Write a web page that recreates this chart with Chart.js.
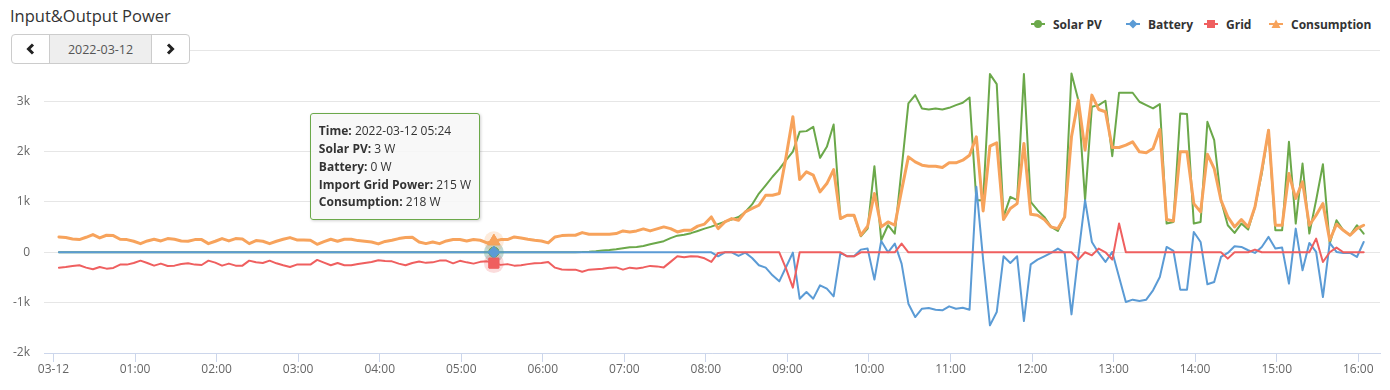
<!DOCTYPE html>
<html>
<head>
<meta charset="utf-8">
<title>Input&amp;Output Power</title>
<script src="https://cdn.jsdelivr.net/npm/chart.js@4.4.0/dist/chart.umd.min.js"></script>
<style>
	body { margin: 0; width: 1390px; height: 390px; overflow: hidden; background: #fff; font-family: "Open Sans", sans-serif; position: relative; }
	#title { position: absolute; left: 10px; top: 4px; font-size: 16.5px; color: #333; }
	#rule { position: absolute; left: 11px; right: 10px; top: 50px; border-top: 1px solid #e6e6e6; }
	#nav { position: absolute; left: 11px; top: 34px; width: 177px; height: 28px; border: 1px solid #ccc; border-radius: 4px; background: #fff; display: flex; overflow: hidden; }
	#nav .btn { width: 37px; display: flex; align-items: center; justify-content: center; }
	#nav .day { width: 101px; background: #eee; border-left: 1px solid #ccc; border-right: 1px solid #ccc; color: #555; font-size: 12.5px; display: flex; align-items: center; justify-content: center; }
	.lg { position: absolute; top: 15px; height: 18px; display: flex; align-items: center; font-size: 12px; font-weight: bold; color: #333; }
	.lg svg { margin-right: 8px; }
	#wrap { position: absolute; left: 0; top: 60px; width: 1390px; height: 330px; }
	#tip { position: absolute; display: none; padding: 8px; background: rgba(247,247,247,0.88); border: 1px solid #6ba84a; border-radius: 3px; box-shadow: 1px 1px 3px rgba(0,0,0,0.18); font-size: 12px; line-height: 17.8px; color: #333; white-space: nowrap; }
</style>
</head>
<body>
<div id="title">Input&amp;Output Power</div>
<div id="rule"></div>
<div id="nav">
	<div class="btn"><svg width="9" height="12"><polyline points="7,1.5 2.5,6 7,10.5" fill="none" stroke="#222" stroke-width="3"/></svg></div>
	<div class="day" id="day"></div>
	<div class="btn"><svg width="9" height="12"><polyline points="2,1.5 6.5,6 2,10.5" fill="none" stroke="#222" stroke-width="3"/></svg></div>
</div>
<div id="legend"></div>
<div id="wrap"><canvas id="chartCanvas" width="1390" height="330"></canvas></div>
<div id="tip"></div>

<script>
const dateLabel = '2022-03-12';
const sampleStart = 4;  // first sample at 00:04
const sampleStep = 5;   // minutes between samples

// one row per hour (12 samples), last row is 16:04
const solarPV = [
	0, 0, 0, 0, 0, 0, 0, 0, 0, 0, 0, 0,
	0, 0, 0, 0, 0, 0, 0, 0, 0, 0, 0, 0,
	0, 0, 0, 0, 0, 0, 0, 0, 0, 0, 0, 0,
	0, 0, 0, 0, 0, 0, 0, 0, 0, 0, 0, 0,
	0, 0, 0, 0, 0, 0, 0, 0, 0, 0, 0, 0,
	3, 3, 3, 3, 3, 3, 3, 3, 3, 3, 3, 3,
	3, 3, 3, 3, 3, 5, 10, 20, 35, 45, 60, 80,
	100, 106, 125, 160, 190, 220, 280, 330, 350, 380, 424, 470,
	510, 560, 610, 650, 700, 800, 950, 1166, 1330, 1500, 1650, 1829,
	2000, 2392, 2406, 2492, 1875, 2094, 2538, 669, 736, 736, 318, 470,
	1710, 239, 537, 371, 1650, 2956, 3121, 2856, 2836, 2856, 2836, 2869,
	2922, 2969, 3075, 1034, 1034, 3539, 3340, 702, 1100, 1034, 3539, 1000,
	835, 702, 504, 424, 702, 3552, 3022, 1034, 2889, 2922, 3009, 1909,
	3168, 3168, 3168, 2989, 2922, 2856, 2942, 570, 603, 2757, 2744, 570,
	603, 2591, 2227, 1034, 537, 384, 570, 451, 901, 1564, 2425, 437,
	437, 2194, 570, 1763, 371, 1034, 1750, 172, 636, 437, 338, 537,
	371
];

const battery = [
	0, 0, 0, 0, 0, 0, 0, 0, 0, 0, 0, 0,
	0, 0, 0, 0, 0, 0, 0, 0, 0, 0, 0, 0,
	0, 0, 0, 0, 0, 0, 0, 0, 0, 0, 0, 0,
	0, 0, 0, 0, 0, 0, 0, 0, 0, 0, 0, 0,
	0, 0, 0, 0, 0, 0, 0, 0, 0, 0, 0, 0,
	0, 0, 0, 0, 0, 0, 0, 0, 0, 0, 0, 0,
	0, 0, 0, 0, 0, 0, 0, 0, 0, 0, 0, 0,
	0, 0, 0, 0, 0, 0, 0, 0, 0, 0, 0, 0,
	0, -80, 0, 0, -73, -7, -113, -258, -305, -457, -577, -292,
	-7, -921, -789, -921, -656, -722, -875, -13, -80, -80, 53, 73,
	-543, 225, 0, 172, -225, -1021, -1286, -1120, -1107, -1140, -1153, -1074,
	-1120, -1100, -1140, 1299, -150, -1451, -1186, -80, -212, -80, -1365, -239,
	-146, -80, -13, 73, -13, -1233, -60, 1034, 205, -13, -192, 7,
	-490, -987, -941, -968, -941, -755, -490, 106, 27, -742, -742, 404,
	205, -636, -590, -93, -13, 119, 106, 40, -13, 106, 305, 73,
	93, -623, 470, -358, 186, 7, -888, 186, 7, -13, -13, -93,
	205
];

// negative = import from grid
const grid = [
	-305, -292, -272, -258, -305, -338, -292, -325, -311, -245, -245, -212,
	-166, -212, -265, -225, -272, -265, -232, -219, -245, -252, -166, -205,
	-265, -225, -265, -265, -166, -199, -212, -166, -219, -258, -292, -245,
	-245, -245, -152, -205, -258, -212, -258, -258, -232, -212, -192, -159,
	-172, -180, -225, -258, -212, -185, -210, -200, -165, -165, -220, -170,
	-200, -225, -190, -180, -215, -250, -235, -265, -258, -235, -220, -212,
	-192, -305, -340, -345, -345, -385, -345, -335, -325, -305, -300, -345,
	-305, -320, -300, -270, -280, -300, -190, -80, -100, -80, -85, -120,
	-190, -13, 0, 0, 0, 0, 0, 0, 0, 0, 0, -325,
	-702, 0, 0, 0, 0, 0, 0, 0, -80, -80, 0, 0,
	0, 0, 0, 0, 172, 0, 0, 0, 0, 0, 0, 0,
	0, 0, 0, 0, 0, 0, 0, 0, 0, 0, 0, 0,
	0, 0, 0, 0, 0, 0, -146, 0, -60, 73, 0, -146,
	570, 0, 0, 0, 0, 0, 0, 0, 0, 0, 0, 0,
	0, 0, 0, 0, -126, 0, 0, 0, 53, 0, 0, 0,
	0, 0, 0, 0, 0, 272, -192, 0, 93, 0, 0, 0,
	0
];

const consumption = [
	305, 292, 265, 252, 298, 351, 285, 338, 331, 258, 252, 219,
	172, 225, 258, 225, 272, 258, 225, 219, 252, 252, 172, 219,
	272, 225, 272, 265, 172, 232, 219, 172, 219, 258, 292, 245,
	245, 239, 159, 212, 258, 219, 258, 258, 232, 219, 205, 166,
	215, 239, 272, 292, 300, 205, 172, 205, 172, 225, 252, 252,
	225, 252, 239, 186, 218, 252, 252, 305, 285, 258, 239, 225,
	186, 305, 331, 338, 338, 391, 358, 358, 358, 358, 371, 424,
	404, 424, 464, 424, 464, 504, 470, 404, 437, 437, 520, 560,
	702, 470, 603, 669, 636, 802, 870, 934, 1133, 1133, 1166, 1895,
	2691, 1445, 1597, 1531, 1199, 1365, 1643, 669, 736, 736, 338, 517,
	1166, 504, 603, 537, 1230, 1895, 1796, 1730, 1710, 1710, 1683, 1776,
	1776, 1829, 1928, 2293, 822, 2108, 2174, 650, 868, 967, 2160, 755,
	736, 650, 504, 470, 702, 2293, 3022, 2028, 3121, 2836, 2790, 2081,
	2081, 2127, 2193, 1995, 1975, 2061, 2439, 650, 623, 1995, 1995, 967,
	802, 1948, 1663, 1034, 702, 504, 650, 504, 901, 1630, 2425, 537,
	537, 1564, 1067, 1398, 537, 736, 967, 239, 557, 437, 338, 470,
	537
];

const hourLabels = ['03-12', '01:00', '02:00', '03:00', '04:00', '05:00', '06:00', '07:00', '08:00',
	'09:00', '10:00', '11:00', '12:00', '13:00', '14:00', '15:00', '16:00'];
const yTickValues = [-2000, -1000, 0, 1000, 2000, 3000];
const yTickLabels = ['-2k', '-1k', '0', '1k', '2k', '3k'];
const hoverTime = '05:24';

const series = [
	{ label: 'Solar PV', values: solarPV, color: '#6ba84a', shape: 'circle', width: 2, order: 3, hover: 5 },
	{ label: 'Battery', values: battery, color: '#5b9bd5', shape: 'rectRot', width: 2, order: 2, hover: 6 },
	{ label: 'Grid', values: grid, color: '#ef5f5f', shape: 'rect', width: 2, order: 1, hover: 7 },
	{ label: 'Consumption', values: consumption, color: '#f7a35c', shape: 'triangle', width: 3, order: 0, hover: 7 }
];
const legendLeft = [1031, 1126, 1204, 1269];

function pad2(n) { return String(n).padStart(2, '0'); }
const minutes = solarPV.map((v, i) => sampleStart + i * sampleStep);
const times = minutes.map(m => pad2(Math.floor(m / 60)) + ':' + pad2(m % 60));

document.getElementById('day').textContent = dateLabel;

function legendIcon(s) {
	let mark = '';
	if (s.shape === 'circle') mark = `<circle cx="7" cy="5" r="4" fill="${s.color}"/>`;
	if (s.shape === 'rectRot') mark = `<polygon points="7,0.5 11.5,5 7,9.5 2.5,5" fill="${s.color}"/>`;
	if (s.shape === 'rect') mark = `<rect x="3" y="1" width="8" height="8" fill="${s.color}"/>`;
	if (s.shape === 'triangle') mark = `<polygon points="7,0.5 11.5,9 2.5,9" fill="${s.color}"/>`;
	return `<svg width="14" height="10"><line x1="0" y1="5" x2="14" y2="5" stroke="${s.color}" stroke-width="2"/>${mark}</svg>`;
}
const legendBox = document.getElementById('legend');
series.forEach((s, i) => {
	const item = document.createElement('div');
	item.className = 'lg';
	item.style.left = legendLeft[i] + 'px';
	item.innerHTML = legendIcon(s) + `<span>${s.label}</span>`;
	legendBox.appendChild(item);
});

function renderTip(context) {
	const { chart, tooltip } = context;
	const el = document.getElementById('tip');
	if (tooltip.opacity === 0 || !tooltip.dataPoints || !tooltip.dataPoints.length) {
		el.style.display = 'none';
		return;
	}
	const pts = tooltip.dataPoints;
	let html = `<div><b>Time:</b> ${dateLabel} ${times[pts[0].dataIndex]}</div>`;
	pts.forEach(p => {
		const v = p.parsed.y;
		let name = p.dataset.label;
		let shown = v;
		if (name === 'Grid') {
			name = v < 0 ? 'Import Grid Power' : 'Export Grid Power';
			shown = Math.abs(v);
		}
		html += `<div><b>${name}:</b> ${shown} W</div>`;
	});
	el.innerHTML = html;
	el.style.display = 'block';
	const wrap = document.getElementById('wrap');
	el.style.left = (wrap.offsetLeft + tooltip.caretX - el.offsetWidth - 14) + 'px';
	el.style.top = (wrap.offsetTop + tooltip.caretY - 139) + 'px';
}

// translucent halo behind the hovered markers
const haloPlugin = {
	id: 'halo',
	afterDatasetsDraw(chart) {
		const ctx = chart.ctx;
		const active = chart.getActiveElements();
		active.forEach(a => {
			const ds = chart.data.datasets[a.datasetIndex];
			ctx.save();
			ctx.globalAlpha = 0.22;
			ctx.fillStyle = ds.borderColor;
			ctx.beginPath();
			ctx.arc(a.element.x, a.element.y, 10, 0, Math.PI * 2);
			ctx.fill();
			ctx.restore();
		});
		active.forEach(a => a.element.draw(ctx, chart.chartArea));
	}
};

const config = {
	type: 'line',
	data: {
		datasets: series.map(s => ({
			label: s.label,
			data: s.values.map((v, i) => ({ x: minutes[i], y: v })),
			borderColor: s.color,
			backgroundColor: s.color,
			borderWidth: s.width,
			borderJoinStyle: 'round',
			borderCapStyle: 'round',
			tension: 0,
			order: s.order,
			pointStyle: s.shape,
			pointRadius: 0,
			pointHoverRadius: s.hover,
			pointHoverBackgroundColor: s.color,
			pointHoverBorderColor: s.color,
			pointHoverBorderWidth: 1
		}))
	},
	options: {
		responsive: false,
		animation: false,
		layout: { padding: { top: 11, right: 10, left: 0, bottom: 0 } },
		interaction: { mode: 'index', intersect: false },
		plugins: {
			legend: { display: false },
			tooltip: {
				enabled: false,
				external: renderTip,
				itemSort: (a, b) => a.datasetIndex - b.datasetIndex
			}
		},
		scales: {
			x: {
				type: 'linear',
				min: -7,
				max: 976,
				afterBuildTicks: scale => { scale.ticks = hourLabels.map((l, i) => ({ value: i * 60 })); },
				afterFit: scale => { scale.height = 37; },
				grid: { drawOnChartArea: false, drawTicks: true, tickLength: 9, color: '#ccd6eb' },
				border: { color: '#ccd6eb' },
				ticks: {
					autoSkip: false,
					maxRotation: 0,
					padding: 0,
					color: '#666',
					font: { family: 'Open Sans', size: 12 },
					callback: (value, index) => hourLabels[index]
				}
			},
			y: {
				min: -2000,
				max: 3600,
				afterBuildTicks: scale => { scale.ticks = yTickValues.map(v => ({ value: v })); },
				afterFit: scale => {
					scale.width = 44;
					scale.paddingTop = 0;
					scale.paddingBottom = 0;
				},
				grid: { color: '#e6e6e6', drawTicks: false },
				border: { display: false },
				ticks: {
					padding: 14,
					color: '#666',
					font: { family: 'Open Sans', size: 12 },
					callback: (value) => yTickLabels[yTickValues.indexOf(value)]
				}
			}
		}
	},
	plugins: [haloPlugin]
};

const ctx = document.getElementById('chartCanvas').getContext('2d');
const chart = new Chart(ctx, config);

const hoverIndex = times.indexOf(hoverTime);
const active = series.map((s, i) => ({ datasetIndex: i, index: hoverIndex }));
chart.setActiveElements(active);
const pt = chart.getDatasetMeta(1).data[hoverIndex];
chart.tooltip.setActiveElements(active, { x: pt.x, y: pt.y });
chart.draw();
</script>
</body>
</html>
